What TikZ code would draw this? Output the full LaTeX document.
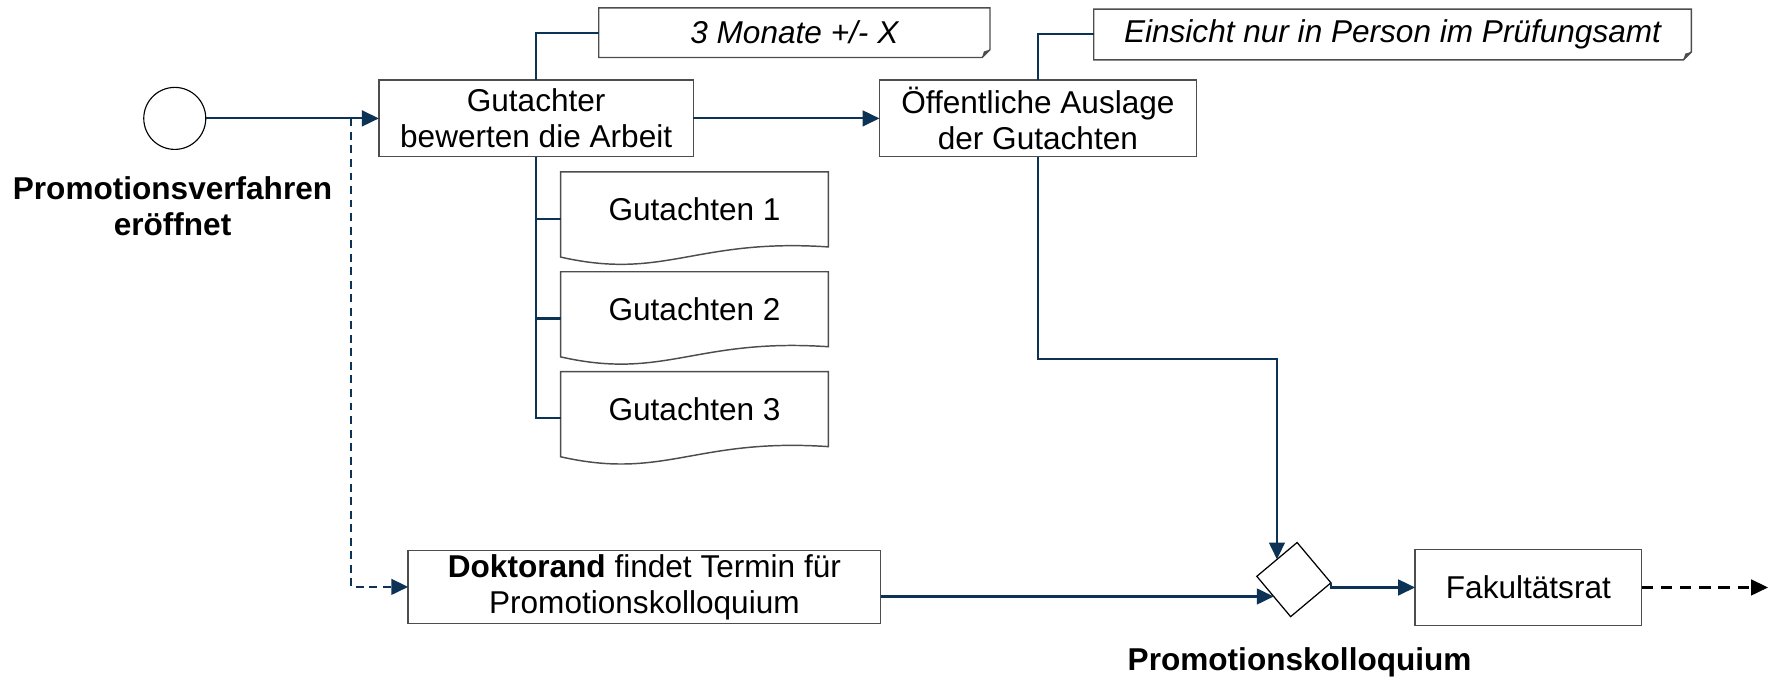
\documentclass[tikz,border=0pt]{standalone}
\usepackage{fontspec}
\setmainfont{Liberation Sans}
\usetikzlibrary{arrows.meta,shapes.geometric,calc}
\definecolor{navy}{HTML}{0C3356}
\definecolor{boxgray}{HTML}{4D4D4D}
\begin{document}
\begin{tikzpicture}[x=0.5pt,y=-0.5pt,
  every node/.style={inner sep=0pt, outer sep=0pt},
  txt/.style={font=\fontsize{14}{16}\selectfont, align=center},
  boldtxt/.style={font=\fontsize{14}{16}\selectfont\bfseries, align=center},
  notetxt/.style={font=\fontsize{14}{16}\selectfont\itshape, align=center},
  boxline/.style={draw=boxgray, line width=0.65pt},
  task/.style={txt, boxline, rectangle, fill=white},
  conn/.style={draw=navy, line width=0.95pt, -{Triangle[length=7.5pt,width=7pt]}},
  link/.style={draw=navy, line width=0.95pt},
  dashconn/.style={conn, dash pattern=on 3.5pt off 2.5pt},
  outconn/.style={draw=black, line width=0.95pt, dash pattern=on 5pt off 3.5pt, -{Triangle[length=7.5pt,width=7pt]}},
]
\useasboundingbox (0,0) rectangle (1568,601);

% nodes
\node[circle, draw=black, line width=0.5pt, minimum size=27.5pt] (start) at (155,105) {};
\node[boldtxt] (startlbl) at (153,183) {Promotionsverfahren\\eröffnet};
\node[task, minimum width=139.5pt, minimum height=34pt] (gut) at (475.5,105) {Gutachter\\bewerten die Arbeit};
\node[task, minimum width=140.5pt, minimum height=34pt] (oeff) at (920.5,105) {Öffentliche Auslage\\der Gutachten};
\node[notetxt, minimum width=173.5pt, minimum height=22pt] (note1) at (704.5,29) {3 Monate +/- X};
\node[notetxt, minimum width=265pt, minimum height=22.5pt] (note2) at (1235,30.5) {Einsicht nur in Person im Prüfungsamt};
\node[txt, minimum width=118.75pt, minimum height=33.25pt, anchor=north] (doc1) at (616,152.5) {Gutachten 1};
\node[txt, minimum width=118.75pt, minimum height=33.25pt, anchor=north] (doc2) at (616,241) {Gutachten 2};
\node[txt, minimum width=118.75pt, minimum height=33.25pt, anchor=north] (doc3) at (616,329.6) {Gutachten 3};
\node[task, minimum width=209.5pt, minimum height=32.5pt] (dok) at (571.5,520.5) {\textbf{Doktorand} findet Termin für\\Promotionskolloquium};
\node[diamond, aspect=1, draw=black, line width=0.55pt, fill=white, minimum size=33pt, rotate=-5] (dia) at (1147.5,514) {};
\node[boldtxt] (dialbl) at (1152.6,587) {Promotionskolloquium};
\node[task, minimum width=100.5pt, minimum height=33.8pt] (fak) at (1355.5,521) {Fakultätsrat};
\coordinate (endpt) at (1568,521);
\coordinate (split) at (311,105);

% note outlines
\foreach \n in {note1,note2}{
  \draw[boxline] (\n.north west) -- (\n.north east) -- ([yshift=3.5pt]\n.south east)
     -- ([xshift=-3.5pt]\n.south east) -- (\n.south west) -- cycle;
  \fill[boxgray] ([yshift=3.5pt]\n.south east) -- ([xshift=-3.5pt]\n.south east)
     -- ([xshift=-2.7pt,yshift=2.7pt]\n.south east) -- cycle;
}
% document outlines
\foreach \n in {doc1,doc2,doc3}{
  \draw[boxline] (\n.north west) -- (\n.north east) -- (\n.south east)
    .. controls ($(\n.south east)+(-118,-8)$) and ($(\n.south east)+(-145,30)$) .. ($(\n.south west)+(0,9)$) -- cycle;
}

% connectors
\draw[conn] (start) -- (gut.west);
\draw[dashconn] (split) |- (dok.west);
\draw[conn] (gut.east) -- (oeff.west);
\draw[link] (note1.west) -| (gut.north);
\draw[link] (note2.west) -| (oeff.north);
\foreach \n in {doc1,doc2,doc3}{
  \draw[link] (gut.south) |- ([yshift=-4.1pt]\n.west);
}
\coordinate (bend) at ($(dia.north west |- oeff.south)+(0,179)$);
\draw[conn] (oeff.south) |- (bend) -- (dia.north west);
\draw[conn] (dok.east |- dia.south west) -- (dia.south west);
\draw[conn] (dia.east) |- (fak.west);
\draw[outconn] (fak.east) -- (endpt);
\end{tikzpicture}
\end{document}
